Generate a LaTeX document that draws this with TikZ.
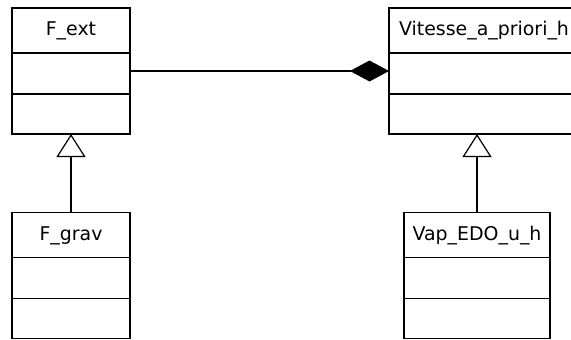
\documentclass[tikz,border=0pt]{standalone}
\usepackage{fontspec}
\setmainfont{DejaVu Sans}
\usetikzlibrary{positioning,arrows.meta}

\begin{document}
\begin{tikzpicture}[x=1bp,y=-1bp,font=\fontsize{19}{21}\selectfont,line width=1.2bp,
  classname/.style={draw,outer sep=0pt,inner xsep=0pt,minimum height=45bp,text height=14bp,text depth=4bp},
  classpart/.style={draw,outer sep=0pt,minimum height=#1},
  compose/.style={-{Diamond[length=39bp,width=21bp]}},
  inherit/.style={-{Triangle[open,length=23bp,width=29bp]}}]
  \useasboundingbox (0,0) rectangle (571,339);
  \fill[white] (0,0) rectangle (571,339);
  % classes: name, attributes, operations
  \foreach \id/\x/\y/\w/\name in {ext/12/30.5/118/F\_ext,grav/12/235/118/F\_grav,
      vit/389/30.5/190/Vitesse\_a\_priori\_h,vap/404/235/146/Vap\_EDO\_u\_h}{
    \node[classname,anchor=west,minimum width=\w bp] (\id) at (\x,\y) {\name};
    \node[classpart=41bp,minimum width=\w bp,below=0pt of \id] (\id-attr) {};
    \node[classpart=40bp,minimum width=\w bp,below=0pt of \id-attr] (\id-ops) {};
  }
  \draw[compose] ([yshift=2.5bp]ext-attr.east) -- ([yshift=2.5bp]vit-attr.west);
  \draw[inherit] (grav.north) -- (ext-ops.south);
  \draw[inherit] (vap.north) -- (vap.north |- vit-ops.south);
\end{tikzpicture}
\end{document}
